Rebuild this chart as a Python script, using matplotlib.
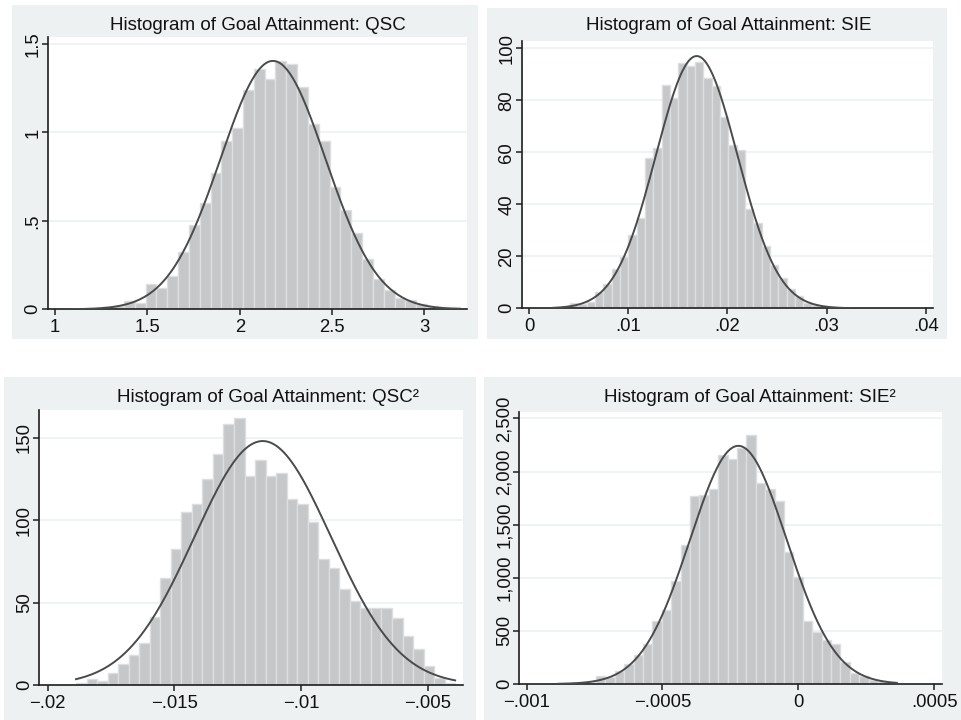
import matplotlib
matplotlib.use("Agg")
import matplotlib.pyplot as plt
from matplotlib.patches import Rectangle
import numpy as np

plt.rcParams['font.family'] = ['Liberation Sans', 'DejaVu Sans']

W, H = 961, 720
BG = '#edf1f1'
BAR = '#c5c7c9'
BAR_EDGE = '#dcdedf'
CURVE = '#4a4a4a'
GRID = '#edf2f3'
AXIS = '#1e1e1e'

# histogram heights (36 bins each)
qsc_heights = [0.002, 0.003, 0.004, 0.012, 0.017, 0.049, 0.038, 0.141, 0.119, 0.188,
               0.322, 0.477, 0.603, 0.769, 0.952, 1.023, 1.240, 1.359, 1.304, 1.406,
               1.387, 1.255, 1.046, 0.952, 0.693, 0.562, 0.430, 0.285, 0.170, 0.107,
               0.065, 0.050, 0.030, 0.018, 0.011, 0.014]
sie_heights = [0.2, 0.4, 1.9, 1.7, 2.6, 6.4, 9.4, 15, 19.9, 28.2,
               34.9, 57.7, 61.5, 86, 80.8, 94.5, 93.3, 94.7, 88.5, 85.3,
               73.4, 62.7, 60.9, 38, 32.7, 24, 16.5, 11.5, 7.3, 4.6,
               2.2, 1.3, 0.8, 0.4, 0.3, 0.2]
qsc2_heights = [1, 3.4, 2.5, 7, 12.6, 18, 25.3, 41.4, 64.7, 82.3,
                105, 110, 124.7, 140, 158.5, 161.7, 126.8, 136.4, 126.7, 128.4,
                113, 109.7, 99, 76.2, 70.8, 58, 51.1, 46.5, 47, 47,
                40.5, 29.7, 21.7, 11.5, 4.5, 1.4]
sie2_heights = [3, 6, 12, 22, 80, 65, 125, 190, 273, 375,
                590, 700, 966, 1305, 1769, 1779, 1837, 2152, 2114, 2222,
                2343, 1888, 1832, 1725, 1240, 1010, 590, 485, 417, 373,
                207, 100, 75, 40, 25, 17]

# data range of each histogram and fitted normal (mean, sd)
qsc_range, qsc_norm = (1.08, 3.19), (2.18, 0.284)
sie_range, sie_norm = (0.00245, 0.0327), (0.01691, 0.004113)
qsc2_range, qsc2_norm = (-0.01888, -0.003921), (-0.011513, 0.002696)
sie2_range, sie2_norm = (-0.000883, 0.0003625), (-0.0002206, 0.0001779)

titles = ["Histogram of Goal Attainment: QSC",
          "Histogram of Goal Attainment: SIE",
          "Histogram of Goal Attainment: QSC\u00b2",
          "Histogram of Goal Attainment: SIE\u00b2"]

qsc_xticks = [1, 1.5, 2, 2.5, 3]
qsc_xlabels = ["1", "1.5", "2", "2.5", "3"]
qsc_yticks = [0, 0.5, 1, 1.5]
qsc_ylabels = ["0", ".5", "1", "1.5"]
sie_xticks = [0, 0.01, 0.02, 0.03, 0.04]
sie_xlabels = ["0", ".01", ".02", ".03", ".04"]
sie_yticks = [0, 20, 40, 60, 80, 100]
sie_ylabels = ["0", "20", "40", "60", "80", "100"]
qsc2_xticks = [-0.02, -0.015, -0.01, -0.005]
qsc2_xlabels = ["\u2212.02", "\u2212.015", "\u2212.01", "\u2212.005"]
qsc2_yticks = [0, 50, 100, 150]
qsc2_ylabels = ["0", "50", "100", "150"]
sie2_xticks = [-0.001, -0.0005, 0, 0.0005]
sie2_xlabels = ["\u2212.001", "\u2212.0005", "0", ".0005"]
sie2_yticks = [0, 500, 1000, 1500, 2000, 2500]
sie2_ylabels = ["0", "500", "1,000", "1,500", "2,000", "2,500"]

fig = plt.figure(figsize=(W / 100, H / 100), dpi=100)
fig.patch.set_facecolor('white')

# panel backgrounds (pixel boxes: x0, y0, x1, y1)
for x0, y0, x1, y1 in [(12, 5, 478, 339), (487, 8, 947, 339),
                       (4, 377, 476, 720), (484, 377, 961, 720)]:
    fig.patches.append(Rectangle((x0 / W, 1 - y1 / H), (x1 - x0) / W, (y1 - y0) / H,
                                 transform=fig.transFigure, facecolor=BG,
                                 edgecolor='none', zorder=-10))


def add_panel(box, xlim, ylim, heights, rng, norm, xt, xl, yt, yl, title, title_pos):
    x0, y0, x1, y1 = box
    ax = fig.add_axes([x0 / W, 1 - y1 / H, (x1 - x0) / W, (y1 - y0) / H])
    ax.set_facecolor('white')
    edges = np.linspace(rng[0], rng[1], len(heights) + 1)
    ax.bar(edges[:-1], heights, width=np.diff(edges), align='edge',
           color=BAR, edgecolor=BAR_EDGE, linewidth=1.0, zorder=2)
    xs = np.linspace(rng[0], rng[1], 300)
    mu, sd = norm
    ax.plot(xs, np.exp(-0.5 * ((xs - mu) / sd) ** 2) / (sd * np.sqrt(2 * np.pi)),
            color=CURVE, lw=1.4, zorder=3)
    for y in yt[1:]:
        ax.axhline(y, color=GRID, lw=1.3, zorder=1)
    ax.set_xlim(*xlim)
    ax.set_ylim(*ylim)
    ax.set_xticks(xt)
    ax.set_xticklabels(xl)
    ax.set_yticks(yt)
    ax.set_yticklabels(yl, rotation=90, va='center')
    for s in ['top', 'right']:
        ax.spines[s].set_visible(False)
    for s in ['left', 'bottom']:
        ax.spines[s].set_color(AXIS)
        ax.spines[s].set_linewidth(1.2)
    ax.tick_params(axis='both', length=4, width=1.1, color=AXIS,
                   labelsize=13.3, labelcolor='#111111')
    ax.tick_params(axis='x', pad=3)
    ax.tick_params(axis='y', pad=0.5)
    fig.text(title_pos[0] / W, 1 - title_pos[1] / H, title, ha='center',
             va='baseline', fontsize=13.5, color='#111111')
    return ax


add_panel((47.7, 37, 467, 309.3), (0.9605, 3.2306), (0, 1.54), qsc_heights,
          qsc_range, qsc_norm, qsc_xticks, qsc_xlabels, qsc_yticks, qsc_ylabels,
          titles[0], (258, 30))
add_panel((521.7, 40.7, 933.3, 308.3), (-0.00074, 0.04077), (0, 102.9), sie_heights,
          sie_range, sie_norm, sie_xticks, sie_xlabels, sie_yticks, sie_ylabels,
          titles[1], (728.5, 30))
add_panel((39, 410, 463.3, 685), (-0.02034, -0.0036), (0, 166.8), qsc2_heights,
          qsc2_range, qsc2_norm, qsc2_xticks, qsc2_xlabels, qsc2_yticks, qsc2_ylabels,
          titles[2], (268, 401.7))
add_panel((519.3, 411.7, 941.7, 684), (-0.001027, 0.000528), (0, 2564), sie2_heights,
          sie2_range, sie2_norm, sie2_xticks, sie2_xlabels, sie2_yticks, sie2_ylabels,
          titles[3], (750, 401.7))

fig.savefig("out.png", dpi=100)
